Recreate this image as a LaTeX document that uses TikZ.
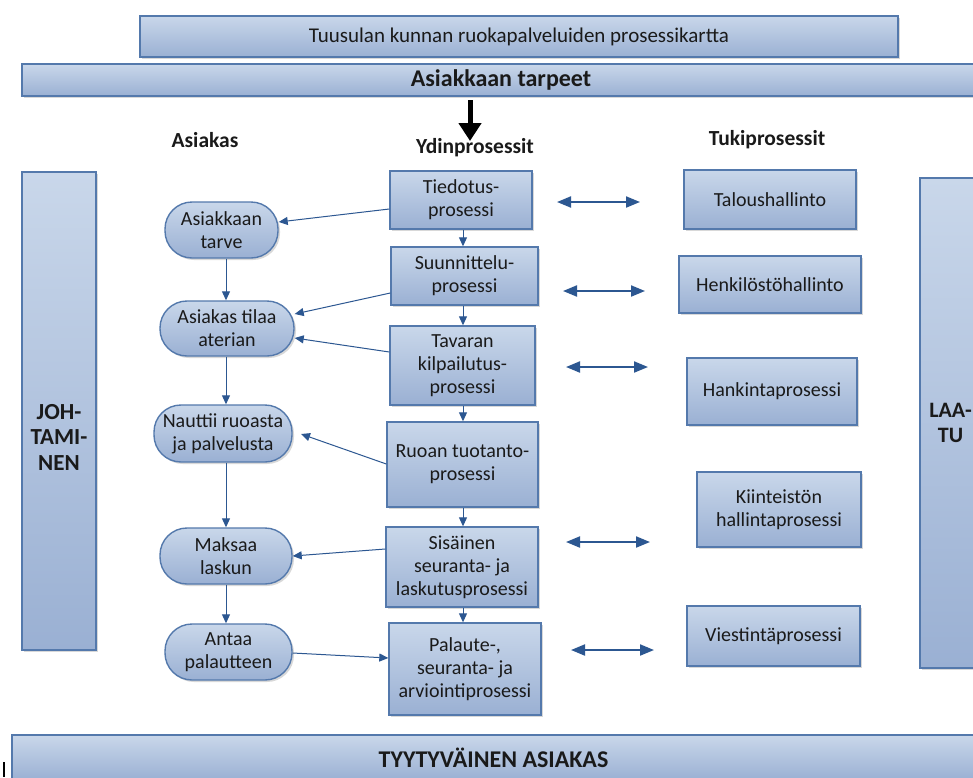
\documentclass[tikz,border=0pt]{standalone}
\usepackage{fontspec}
\setmainfont{Carlito}
\usetikzlibrary{arrows.meta,shadows}
\definecolor{ftop}{HTML}{C9D7EA}
\definecolor{fbot}{HTML}{9AB0D3}
\definecolor{bord}{HTML}{5479AC}
\definecolor{arrc}{HTML}{2C5791}
\definecolor{txt}{HTML}{1A1A1A}
\tikzset{
  boxbase/.style={draw=bord, line width=1.4pt, top color=ftop, bottom color=fbot,
    inner sep=0pt, align=center, text=txt,
    drop shadow={shadow xshift=2pt, shadow yshift=-2pt, opacity=0.3, fill=gray},
    font=\fontsize{20}{23}\selectfont},
  procbox/.style={boxbase},
  pill/.style={boxbase, rounded corners=27pt},
  barbox/.style={boxbase, font=\fontsize{24}{27}\selectfont\bfseries},
  hdr/.style={text=txt, font=\fontsize{21.5}{24}\selectfont\bfseries, inner sep=0pt},
  sidetxt/.style={text=txt, align=center, inner sep=0pt, font=\fontsize{23}{25.5}\selectfont\bfseries},
  arr/.style={draw=arrc, line width=1pt, -{Triangle[length=9pt,width=8pt]}},
  darr/.style={draw=arrc, line width=2pt, {Triangle[length=14pt,width=11pt]}-{Triangle[length=14pt,width=11pt]}},
  bigarr/.style={draw=black, line width=5pt, -{Triangle[length=18pt,width=22pt]}},
}
\begin{document}
\begin{tikzpicture}[x=1pt,y=-1pt]
\clip (0,0) rectangle (973,777);
\fill[white] (0,0) rectangle (973,777);

% top bars
\node[boxbase, minimum width=758, minimum height=41, font=\fontsize{21}{24}\selectfont] (title) at (519,36.5) {Tuusulan kunnan ruokapalveluiden prosessikartta};
\node[barbox, minimum width=958, minimum height=32] (needs) at (501,80) {Asiakkaan tarpeet};

% side boxes
\node[boxbase, minimum width=74, minimum height=478] (joh) at (59,411) {};
\node[sidetxt] (johtxt) at (59,437) {JOH-\\TAMI-\\NEN};
\node[boxbase, minimum width=70, minimum height=490] (laa) at (955,423) {};
\node[sidetxt, font=\fontsize{22}{25.5}\selectfont\bfseries] (laatxt) at (950.5,423) {LAA-\\TU};

% bottom bar
\node[barbox, minimum width=963, minimum height=45] (happy) at (493.5,757.5) {TYYTYVÄINEN ASIAKAS};
\draw[black, line width=2pt] (4,762) -- (4,777);

% headings
\node[hdr] (hasiakas) at (205,140) {Asiakas};
\node[hdr] (hydin) at (475,148) {Ydinprosessit};
\node[hdr] (htuki) at (767,140) {Tukiprosessit};
\coordinate (bigA) at (470,100);
\coordinate (bigB) at (470,141);
\draw[bigarr] (bigA) -- (bigB);

% customer column
\node[pill, minimum width=113, minimum height=56] (l1) at (221.5,230) {Asiakkaan\\tarve};
\node[pill, minimum width=134, minimum height=55] (l2) at (227,328.5) {Asiakas tilaa\\aterian};
\node[pill, minimum width=138, minimum height=57] (l3) at (223,433.5) {Nauttii ruoasta\\ja palvelusta};
\node[pill, minimum width=132, minimum height=56] (l4) at (226,556) {Maksaa\\laskun};
\node[pill, minimum width=127, minimum height=56] (l5) at (228.5,652) {Antaa\\palautteen};

% core column
\node[procbox, minimum width=142, minimum height=58] (m1) at (461,200) {Tiedotus-\\prosessi};
\node[procbox, minimum width=147, minimum height=58] (m2) at (464.5,276) {Suunnittelu-\\prosessi};
\node[procbox, minimum width=145, minimum height=79] (m3) at (462.5,365.5) {Tavaran\\kilpailutus-\\prosessi};
\node[procbox, minimum width=151, minimum height=85] (m4) at (462.5,464.5) {Ruoan tuotanto-\\prosessi};
\node[procbox, minimum width=152, minimum height=80] (m5) at (462,567) {Sisäinen\\seuranta- ja\\laskutusprosessi};
\node[procbox, minimum width=152, minimum height=92] (m6) at (465,669) {Palaute-,\\seuranta- ja\\arviointiprosessi};

% support column
\node[procbox, minimum width=172, minimum height=59] (r1) at (770,199.5) {Taloushallinto};
\node[procbox, minimum width=182, minimum height=57] (r2) at (770,284.5) {Henkilöstöhallinto};
\node[procbox, minimum width=170, minimum height=67] (r3) at (772,391.5) {Hankintaprosessi};
\node[procbox, minimum width=164, minimum height=75] (r4) at (779,509.5) {Kiinteistön\\hallintaprosessi};
\node[procbox, minimum width=173, minimum height=60] (r5) at (773.5,636) {Viestintäprosessi};

% customer flow
\draw[arr] (l1.south -| 226,0) -- (l2.north -| 226,0);
\draw[arr] (l2.south -| 226,0) -- (l3.north -| 226,0);
\draw[arr] (l3.south -| 226,0) -- (l4.north -| 226,0);
\draw[arr] (l4.south -| 226,0) -- (l5.north -| 226,0);

% core flow
\draw[arr] (m1.south -| 463,0) -- (m2.north -| 463,0);
\draw[arr] (m2.south -| 463,0) -- (m3.north -| 463,0);
\draw[arr] (m3.south -| 463,0) -- (m4.north -| 463,0);
\draw[arr] (m4.south -| 463,0) -- (m5.north -| 463,0);
\draw[arr] (m5.south -| 463,0) -- (m6.north -| 463,0);

% core to customer
\draw[arr] (m1.west |- 0,209) -- (l1.east |- 0,222);
\draw[arr] (m2.west |- 0,293) -- (l2.east |- 0,314);
\draw[arr] (m3.west |- 0,352) -- (l2.east |- 0,338);
\draw[arr] (m4.west |- 0,464) -- (301,434);
\draw[arr] (m5.west |- 0,549) -- (l4.east |- 0,556);
\draw[arr] (l5.east |- 0,653) -- (m6.west |- 0,658);

% double arrows
\coordinate (d1a) at (557,202); \coordinate (d1b) at (640,202);
\coordinate (d2a) at (563,291); \coordinate (d2b) at (645,291);
\coordinate (d3a) at (566,367); \coordinate (d3b) at (648,367);
\coordinate (d4a) at (566,542); \coordinate (d4b) at (650,542);
\coordinate (d5a) at (571,650); \coordinate (d5b) at (654,650);
\draw[darr] (d1a) -- (d1b);
\draw[darr] (d2a) -- (d2b);
\draw[darr] (d3a) -- (d3b);
\draw[darr] (d4a) -- (d4b);
\draw[darr] (d5a) -- (d5b);
\end{tikzpicture}
\end{document}
